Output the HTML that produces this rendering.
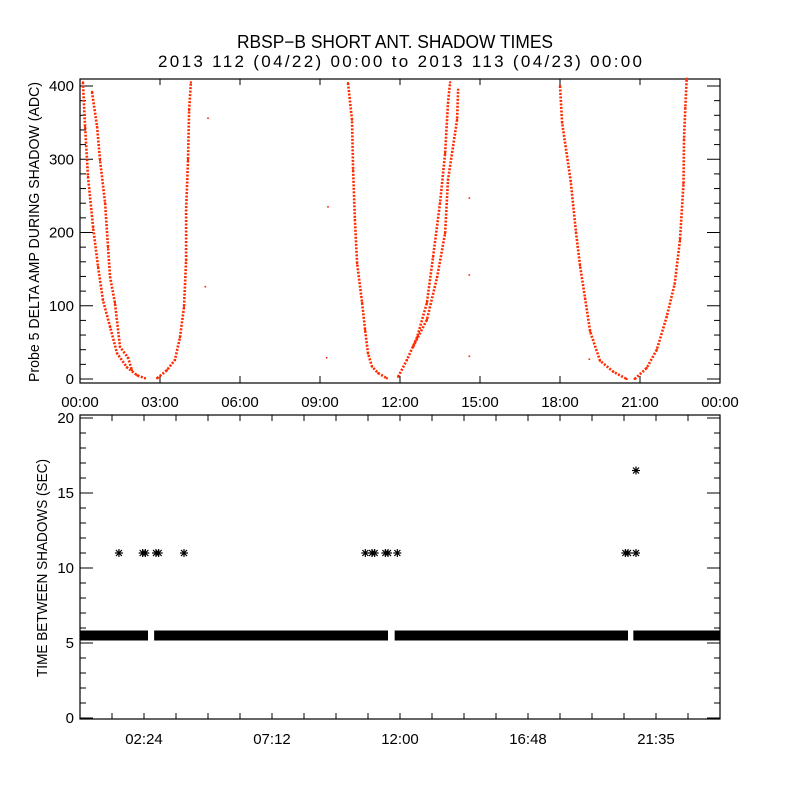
<!DOCTYPE html>
<html><head><meta charset="utf-8"><style>
html,body{margin:0;padding:0;background:#fff;}
svg{display:block;font-family:"Liberation Sans",sans-serif;}
</style></head><body>
<svg id="chart" width="800" height="800" viewBox="0 0 800 800">
<rect width="800" height="800" fill="#fff"/>
<text x="395" y="48" font-size="18" text-anchor="middle" textLength="316" lengthAdjust="spacingAndGlyphs">RBSP−B SHORT ANT. SHADOW TIMES</text>
<text x="400" y="67" font-size="17" text-anchor="middle" textLength="484" lengthAdjust="spacing">2013 112 (04/22) 00:00 to 2013 113 (04/23) 00:00</text>
<g id="topPanel"></g>
<g id="botPanel"></g>
</svg>
<script>
// ---- top panel data: branches of (hour, ADC) ----
const b1aH=[0.11,0.19,0.30,0.49,0.68,0.86,1.13,1.39,1.76,2.14,2.44];
const b1aV=[405,344,276,207,153,108,71,35,16,5,1];
const b1bH=[0.45,0.64,0.75,0.94,1.05,1.13,1.31,1.50,1.80,1.95];
const b1bV=[392,344,299,240,180,139,104,44,29,12];
const b2H=[2.89,3.26,3.56,3.75,3.90,3.98,3.98,4.05,4.09,4.16];
const b2V=[1,12,26,57,98,162,230,299,367,405];
const b3H=[10.05,10.2,10.24,10.31,10.39,10.58,10.69,10.80,10.95,11.18,11.51];
const b3V=[404,354,285,217,158,104,67,35,17,8,1];
const b4aH=[11.93,12.26,12.64,13.01,13.24,13.5,13.69,13.8,13.88];
const b4aV=[3,26,57,104,167,240,308,377,405];
const b4bH=[12.49,13.01,13.39,13.69,13.8,14.14,14.18];
const b4bV=[44,81,139,199,272,354,395];
const b5H=[18.0,18.08,18.4,18.6,18.75,18.94,19.13,19.5,20.0,20.5];
const b5V=[400,350,270,200,155,110,65,25,10,0];
const b6H=[20.8,21.25,21.63,22.0,22.3,22.5,22.63,22.65,22.7,22.75];
const b6V=[0,15,40,85,130,190,267,327,370,410];
const isoH=[4.8,4.7,9.3,9.25,14.6,14.6,14.6,19.1];
const isoV=[356,126,235,29,247,142,31,27];
const topYTicks=[0,100,200,300,400];
const topXTicks=[0,3,6,9,12,15,18,21,24];
const topXLabels=["00:00","03:00","06:00","09:00","12:00","15:00","18:00","21:00","00:00"];
// ---- bottom panel data ----
const segStart=[0,2.78,11.8,20.75];
const segEnd=[2.55,11.55,20.55,24];
const segValue=[5.5,5.5,5.5,5.5];
const outH=[1.46,2.35,2.45,2.85,2.95,3.9,10.7,10.95,11.05,11.45,11.55,11.9,20.45,20.55,20.85,20.85];
const outV=[11,11,11,11,11,11,11,11,11,11,11,11,11,11,11,16.5];
const botYTicks=[0,5,10,15,20];
const botXTicks=[2.4,7.2,12,16.8,21.6];
const botXLabels=["02:24","07:12","12:00","16:48","21:35"];

const NS="http://www.w3.org/2000/svg";
function mk(tag,attrs,parent){const e=document.createElementNS(NS,tag);for(const k in attrs)e.setAttribute(k,attrs[k]);parent.appendChild(e);return e;}
const L=80,R=720;
const xs=h=>L+(R-L)*h/24;
const tT=79,tB=383;
const ty=v=>379-v*0.7325;
const topG=document.getElementById('topPanel');
const botG=document.getElementById('botPanel');

let frame=mk('rect',{x:L,y:tT,width:R-L,height:tB-tT,fill:'none',stroke:'#000','stroke-width':1.2},topG);


for(let v=0;v<=400;v+=20){
  const major=v%100===0;const len=major?13:6;const y=ty(v);
  let t=mk('line',{x1:L,x2:L+len,y1:y,y2:y,stroke:'#000'},topG);
  
  
  let t2=mk('line',{x1:R,x2:R-len,y1:y,y2:y,stroke:'#000'},topG);
  
  
}
topYTicks.forEach(v=>{
  let tx=mk('text',{x:L-6,y:ty(v)+5,'font-size':15,'text-anchor':'end'},topG);tx.textContent=String(v);
  
  
});
topXTicks.forEach((h,i)=>{
  const x=xs(h);
  let a=mk('line',{x1:x,x2:x,y1:tB,y2:tB-7,stroke:'#000'},topG);
  
  
  let b=mk('line',{x1:x,x2:x,y1:tT,y2:tT+6,stroke:'#000'},topG);
  
  
  let tx=mk('text',{x:x,y:407,'font-size':15,'text-anchor':'middle'},topG);tx.textContent=topXLabels[i];
  
  
});
let yl=mk('text',{x:0,y:0,'font-size':15,'text-anchor':'middle',transform:'translate(39,232) rotate(-90)',textLength:300,lengthAdjust:'spacingAndGlyphs'},topG);
yl.textContent='Probe 5 DELTA AMP DURING SHADOW (ADC)';



const branches=[[b1aH,b1aV],[b1bH,b1bV],[b2H,b2V],[b3H,b3V],[b4aH,b4aV],[b4bH,b4bV],[b5H,b5V],[b6H,b6V]];
branches.forEach((br,bi)=>{
  const pts=br[0].map((h,i)=>xs(h).toFixed(1)+','+ty(br[1][i]).toFixed(1)).join(' ');
  let pl=mk('polyline',{points:pts,fill:'none',stroke:'#ff2a00','stroke-width':2.6,'stroke-dasharray':'2 1.5'},topG);
  
  
  br[0].forEach((h,i)=>{
    let p=mk('rect',{x:xs(h)-1,y:ty(br[1][i])-1,width:2,height:2,fill:'#ff2a00'},topG);
    
    
  });
});
isoH.forEach((h,i)=>{
  let p=mk('rect',{x:xs(h)-0.8,y:ty(isoV[i])-0.8,width:1.6,height:1.6,fill:'#ff2a00'},topG);
  
  
});

// bottom panel
const bT=415,bB=719;
const by=v=>718-v*15;
let f2=mk('rect',{x:L,y:bT,width:R-L,height:bB-bT,fill:'none',stroke:'#000','stroke-width':1.2},botG);


for(let v=0;v<=20;v++){
  const major=v%5===0;const len=major?13:6;const y=by(v);
  let t=mk('line',{x1:L,x2:L+len,y1:y,y2:y,stroke:'#000'},botG);
  
  
  let t2=mk('line',{x1:R,x2:R-len,y1:y,y2:y,stroke:'#000'},botG);
  
  
}
botYTicks.forEach(v=>{
  let tx=mk('text',{x:L-6,y:by(v)+5,'font-size':15,'text-anchor':'end'},botG);tx.textContent=String(v);
  
  
});
for(let k=1;k<20;k++){
  const x=xs(k*1.2);
  let a=mk('line',{x1:x,x2:x,y1:bB,y2:bB-6,stroke:'#000'},botG);
  
  
  let b=mk('line',{x1:x,x2:x,y1:bT,y2:bT+6,stroke:'#000'},botG);
  
  
}
botXTicks.forEach((h,i)=>{
  let tx=mk('text',{x:xs(h),y:744,'font-size':15,'text-anchor':'middle'},botG);tx.textContent=botXLabels[i];
  
  
});
let yl2=mk('text',{x:0,y:0,'font-size':15,'text-anchor':'middle',transform:'translate(47,568) rotate(-90)',textLength:218,lengthAdjust:'spacingAndGlyphs'},botG);
yl2.textContent='TIME BETWEEN SHADOWS (SEC)';



segStart.forEach((s,i)=>{
  const x1=xs(s),x2=xs(segEnd[i]);const y=by(segValue[i]);
  let r=mk('rect',{x:x1,y:y-5,width:x2-x1,height:10,fill:'#000'},botG);
  
  
});
function star(cx,cy,name){
  const g=mk('g',{stroke:'#000','stroke-width':1.2},botG);
  
  
  mk('line',{x1:cx-4,x2:cx+4,y1:cy,y2:cy},g);
  mk('line',{x1:cx,x2:cx,y1:cy-4,y2:cy+4},g);
  mk('line',{x1:cx-3,x2:cx+3,y1:cy-3,y2:cy+3},g);
  mk('line',{x1:cx-3,x2:cx+3,y1:cy+3,y2:cy-3},g);
}
outH.forEach((h,i)=>star(xs(h),by(outV[i]),'interval-outlier'));
</script>
</body></html>
